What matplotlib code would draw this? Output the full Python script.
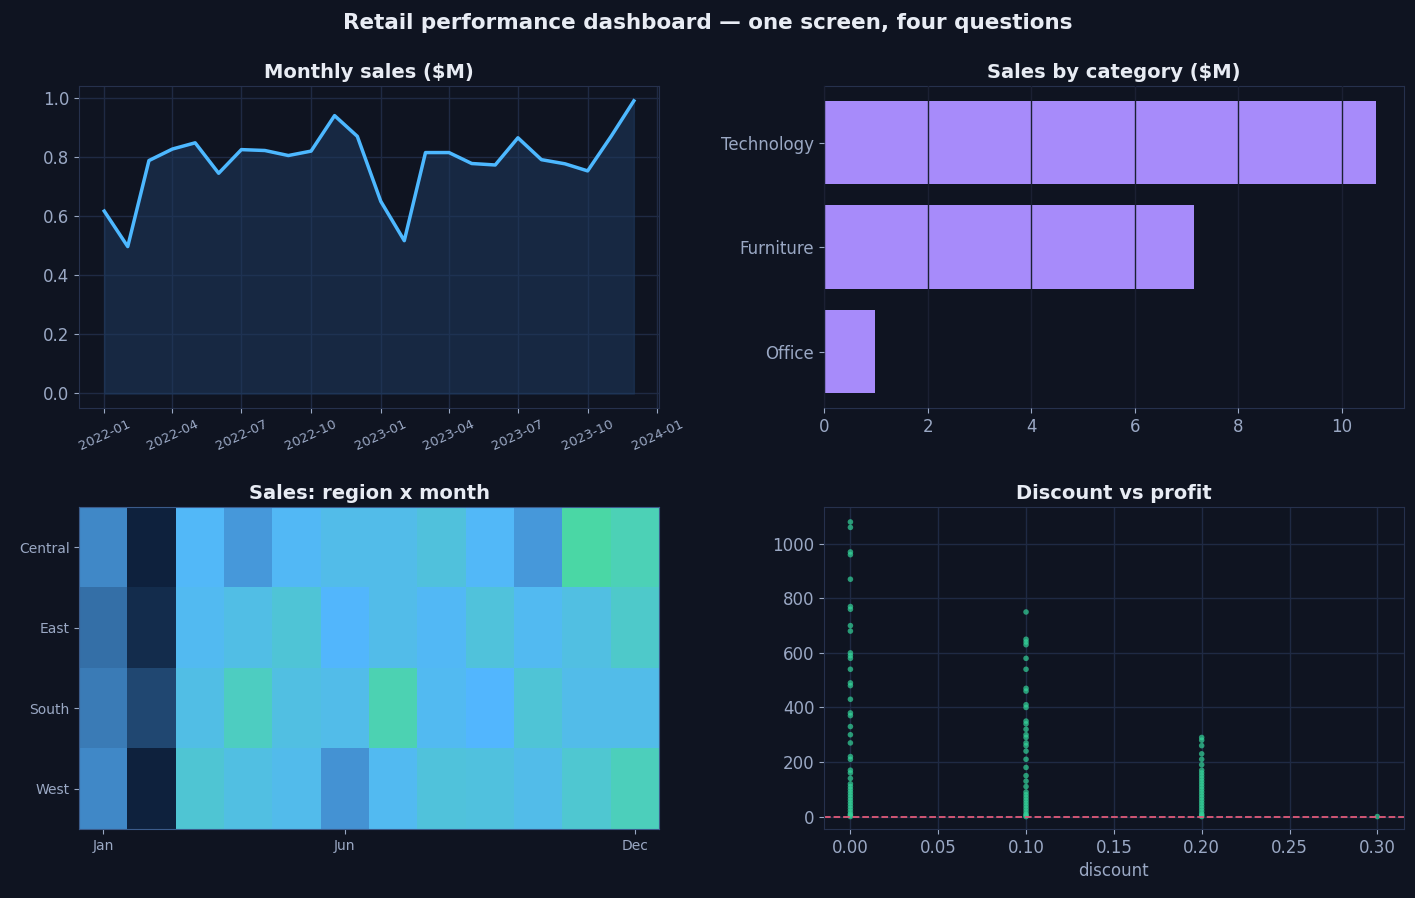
import matplotlib
matplotlib.use("Agg")
import matplotlib.pyplot as plt
import matplotlib.dates as mdates
import numpy as np
import pandas as pd
from matplotlib.colors import LinearSegmentedColormap

months = pd.date_range("2022-01-01", periods=24, freq="MS")
sales = [0.617, 0.497, 0.788, 0.827, 0.848, 0.745, 0.825, 0.822, 0.805, 0.820, 0.940, 0.870,
         0.650, 0.517, 0.815, 0.815, 0.778, 0.773, 0.865, 0.791, 0.777, 0.753, 0.870, 0.990]

categories = ["Office", "Furniture", "Technology"]
cat_sales = [0.98, 7.15, 10.65]

regions = ["Central", "East", "South", "West"]
heat = [
    [0.35, 0.02, 0.55, 0.40, 0.57, 0.66, 0.66, 0.74, 0.55, 0.40, 0.98, 0.92],
    [0.25, 0.05, 0.60, 0.68, 0.78, 0.52, 0.66, 0.57, 0.75, 0.60, 0.70, 0.85],
    [0.30, 0.12, 0.68, 0.88, 0.70, 0.66, 0.93, 0.60, 0.50, 0.78, 0.66, 0.66],
    [0.35, 0.02, 0.80, 0.70, 0.64, 0.38, 0.60, 0.75, 0.73, 0.66, 0.82, 0.90],
]
month_ticks = ["Jan", "Jun", "Dec"]

disc0 = [1080, 1060, 970, 960, 870, 770, 760, 700, 680, 600, 590, 580, 540, 490, 480, 430, 380, 370,
         330, 300, 270, 220, 210, 170, 160, 140, 120, 110, 100, 90, 80, 70, 60, 50, 40, 30, 20, 10, 5, 0]
disc1 = [750, 650, 640, 630, 580, 540, 470, 460, 410, 400, 350, 340, 320, 300, 290, 270, 260, 240,
         210, 180, 150, 130, 110, 90, 80, 70, 60, 50, 40, 30, 20, 10, 5, 0]
disc2 = [290, 280, 260, 230, 210, 190, 170, 160, 150, 140, 130, 120, 110, 100, 90, 80, 70, 60, 50,
         40, 30, 20, 10, 5, 0]
disc3 = [0]

BG = "#0f1421"
GRID = "#1f2a44"
TXT = "#9aa8c4"
plt.rcParams.update({
    "figure.facecolor": BG, "axes.facecolor": BG, "axes.edgecolor": "#26314d",
    "axes.labelcolor": TXT, "xtick.color": TXT, "ytick.color": TXT,
    "text.color": "#e8ecf4",
})
plt.rcParams["font.family"] = ["DejaVu Sans"]
plt.rcParams["font.sans-serif"] = ["DejaVu Sans"]

fig, axs = plt.subplots(2, 2, figsize=(14.15, 8.98), dpi=100)
fig.suptitle("Retail performance dashboard — one screen, four questions", fontsize=15.5,
             fontweight="bold", color="#e8ecf4", y=0.985, family="DejaVu Sans")

tkw = dict(fontsize=14, fontweight="bold", color="#e8ecf4", family="DejaVu Sans")

ax = axs[0, 0]
ax.fill_between(months, sales, color="#1e3a5f", alpha=0.55)
ax.plot(months, sales, color="#4db8ff", lw=2.5)
ax.grid(True, color=GRID, lw=1)
ax.set_axisbelow(True)
ax.set_title("Monthly sales ($M)", **tkw)
ax.xaxis.set_major_locator(mdates.MonthLocator(bymonth=[1, 4, 7, 10]))
ax.xaxis.set_major_formatter(mdates.DateFormatter("%Y-%m"))
ax.set_xlim(pd.Timestamp("2021-11-29"), pd.Timestamp("2024-01-03"))
plt.setp(ax.get_xticklabels(), rotation=25, fontsize=9.5)
ax.tick_params(axis="y", labelsize=12)

ax = axs[0, 1]
ax.barh(categories, cat_sales, color="#a78bfa", height=0.8)
ax.grid(True, axis="x", color="#1b2033", lw=1)
ax.set_axisbelow(False)
ax.set_xlim(0, 11.19)
ax.set_title("Sales by category ($M)", **tkw)
ax.tick_params(labelsize=12)

ax = axs[1, 0]
cmap = LinearSegmentedColormap.from_list("c", ["#0b1a33", "#2a5a8c", "#3f84c2", "#52b6ff", "#52bde8", "#4fc8cf", "#4ad9a0"])
ax.imshow(np.array(heat), aspect="auto", cmap=cmap, vmin=0, vmax=1)
ax.set_yticks(range(4))
ax.set_yticklabels(regions, fontsize=10)
ax.set_xticks([0, 5, 11])
ax.set_xticklabels(month_ticks, fontsize=10)
ax.set_title("Sales: region x month", **tkw)
for s in ax.spines.values():
    s.set_color("#3b5b8a")

ax = axs[1, 1]
for d, vals in [(0.0, disc0), (0.1, disc1), (0.2, disc2), (0.3, disc3)]:
    ax.scatter([d] * len(vals), vals, s=16, color="#34d399", alpha=0.7, edgecolors="none")
ax.axhline(0, color="#e05a7a", ls="--", lw=1.3)
ax.grid(True, color=GRID, lw=1)
ax.set_axisbelow(True)
ax.set_title("Discount vs profit", **tkw)
ax.set_xlabel("discount", fontsize=12)
ax.tick_params(labelsize=12)
ax.set_ylim(-45, 1135)

fig.subplots_adjust(left=0.056, right=0.992, top=0.904, bottom=0.077, hspace=0.307, wspace=0.285)
fig.savefig("out.png", dpi=100, facecolor=BG)
